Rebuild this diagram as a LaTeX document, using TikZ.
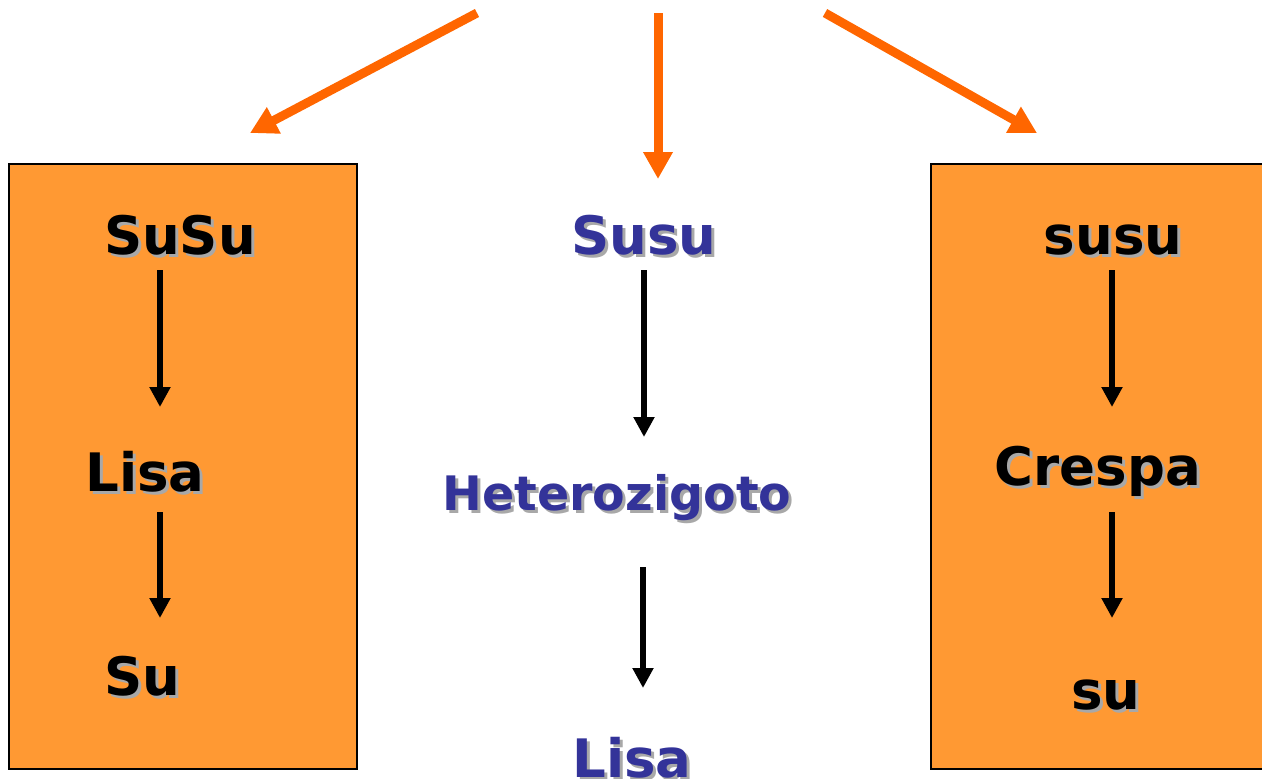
\documentclass[tikz,border=0pt]{standalone}
\usepackage{fontspec}
\setmainfont{DejaVu Sans}
\usetikzlibrary{arrows.meta}
\definecolor{boxorange}{HTML}{FF9933}
\definecolor{arroworange}{HTML}{FF6600}
\definecolor{navy}{HTML}{333399}
\definecolor{shadowgray}{HTML}{A8A8A8}
\newcommand{\shd}[2]{\makebox[0pt][l]{\raisebox{-3pt}{\hspace{3pt}\textcolor{shadowgray}{#2}}}\textcolor{#1}{#2}}
\tikzset{
  x=1pt,y=-1pt,
  panel/.style={draw=black,line width=1.5pt,fill=boxorange},
  bigarrow/.style={draw=arroworange,line width=9pt,-{Triangle[length=27pt,width=28pt]}},
  flow/.style={draw=black,line width=6.5pt,-{Triangle[length=20pt,width=20pt]}},
  lbl/.style={inner sep=0pt,anchor=base,font=\fontsize{53}{60}\selectfont\bfseries},
  lblsmall/.style={inner sep=0pt,anchor=base,font=\fontsize{47.5}{54}\selectfont\bfseries},
}
\begin{document}
\begin{tikzpicture}
\useasboundingbox (0,0) rectangle (1262,779);
\begin{scope}
\clip (0,0) rectangle (1262,779);
\path[panel] (9,164) rectangle (357,769);
\path[panel] (931,164) rectangle (1275,769);

% orange arrows
\coordinate (t1) at (477,13); \coordinate (h1) at (250,133);
\coordinate (t2) at (658,13); \coordinate (h2) at (658,179);
\coordinate (t3) at (825,13); \coordinate (h3) at (1037,133);
\draw[bigarrow] (t1) -- (h1);
\draw[bigarrow] (t2) -- (h2);
\draw[bigarrow] (t3) -- (h3);

% texts
\node[lbl] (SuSu) at (180,254) {\shd{black}{SuSu}};
\node[lbl] (LisaL) at (145,491) {\shd{black}{Lisa}};
\node[lbl] (SuL) at (142,695) {\shd{black}{Su}};
\node[lbl] (Susu) at (644,254) {\shd{navy}{Susu}};
\node[lblsmall] (Het) at (617,510) {\shd{navy}{Heterozigoto}};
\node[lbl] (LisaM) at (632,777) {\shd{navy}{Lisa}};
\node[lbl] (susu) at (1113,254) {\shd{black}{susu}};
\node[lbl] (Crespa) at (1098,485) {\shd{black}{Crespa}};
\node[lbl] (su) at (1106,709) {\shd{black}{su}};

% black flow arrows
\coordinate (a1) at (160,270); \coordinate (b1) at (160,407);
\coordinate (a2) at (160,512); \coordinate (b2) at (160,618);
\coordinate (a3) at (644,270); \coordinate (b3) at (644,437);
\coordinate (a4) at (643,567); \coordinate (b4) at (643,688);
\coordinate (a5) at (1112,270); \coordinate (b5) at (1112,407);
\coordinate (a6) at (1112,512); \coordinate (b6) at (1112,618);
\draw[flow] (a1) -- (b1);
\draw[flow] (a2) -- (b2);
\draw[flow] (a3) -- (b3);
\draw[flow] (a4) -- (b4);
\draw[flow] (a5) -- (b5);
\draw[flow] (a6) -- (b6);
\end{scope}
\end{tikzpicture}
\end{document}
